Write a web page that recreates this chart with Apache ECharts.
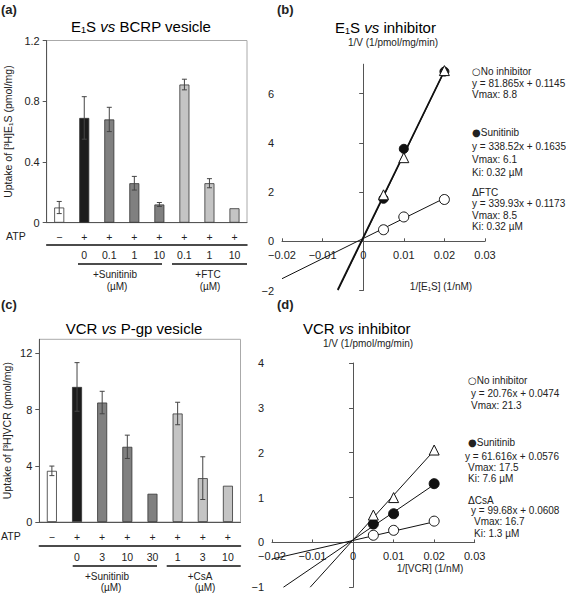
<!DOCTYPE html>
<html><head><meta charset="utf-8">
<script src="https://cdn.jsdelivr.net/npm/echarts@6/dist/echarts.min.js"></script>
<style>html,body{margin:0;padding:0;background:#fff}#c{width:566px;height:593px}</style>
</head><body><div id="c"></div>
<script>
// ---------- DATA ----------
// Panel (a): E1S uptake in BCRP vesicles
const atpA = ['−','+','+','+','+','+','+','+'];
const concA = ['','0','0.1','1','10','0.1','1','10'];
const uptakeA = [0.10, 0.69, 0.68, 0.26, 0.12, 0.91, 0.26, 0.095];
const errA = [0.04, 0.14, 0.08, 0.045, 0.013, 0.035, 0.03, null];
const yTicksA = [0, 0.4, 0.8, 1.2];
// Panel (c): VCR uptake in P-gp vesicles
const atpC = ['−','+','+','+','+','+','+','+'];
const concC = ['','0','3','10','30','1','3','10'];
const uptakeC = [3.64, 9.61, 8.50, 5.35, 2.01, 7.72, 3.12, 2.58];
const errC = [0.34, 1.73, 0.80, 0.83, null, 0.80, 1.52, null];
const yTicksC = [0, 4, 8, 12];
// Panel (b): Lineweaver-Burk E1S
const invSubB = [0.005, 0.01, 0.02];
const noInhB = [0.47, 0.99, 1.70];
const sunB = [1.73, 3.76, 6.90];
const ftcB = [1.89, 3.40, 6.94];
const noInhLineB = [[-0.02, -1.52], [0.02, 1.75]];
const sunLineB = [[-0.0063, -1.97], [0.02, 6.93]];
const ftcLineB = [[-0.0062, -1.99], [0.02, 6.92]];
const xRangeB = [-0.02, 0.03];
const yRangeB = [-2, 7.2];
const yTicksB = [-2, 0, 2, 4, 6];
const legendB = [[['○','No inhibitor'],'y = 81.865x + 0.1145','Vmax: 8.8'],
                 [['●','Sunitinib'],'y = 338.52x + 0.1635','Vmax: 6.1','Ki: 0.32 µM'],
                 [['Δ','FTC'],'y = 339.93x + 0.1173','Vmax: 8.5','Ki: 0.32 µM']];
// Panel (d): Lineweaver-Burk VCR
const invSubD = [0.005, 0.01, 0.02];
const noInhD = [0.16, 0.27, 0.475];
const sunD = [0.41, 0.64, 1.31];
const csaD = [0.61, 1.00, 2.06];
const noInhLineD = [[-0.02, -0.37], [0.02, 0.46]];
const sunLineD = [[-0.0172, -1.0], [0.02, 1.29]];
const csaLineD = [[-0.0106, -1.0], [0.02, 2.05]];
const xRangeD = [-0.02, 0.03];
const yRangeD = [-1, 4];
const legendD = [[['○','No inhibitor'],'y = 20.76x + 0.0474','Vmax: 21.3'],
                 [['●','Sunitinib'],'y = 61.616x + 0.0576','Vmax: 17.5','Ki: 7.6 µM'],
                 [['Δ','CsA'],'y = 99.68x + 0.0608','Vmax: 16.7','Ki: 1.3 µM']];

// ---------- STYLE ----------
const FONT = '"Liberation Sans", Arial, sans-serif';
const INK = '#222';
const AX = '#555';
const barColors = ['#ffffff','#1c1c1c','#808080','#808080','#808080','#c4c4c4','#c4c4c4','#c4c4c4'];
const fmtX = v => Math.abs(v) < 1e-9 ? '0' : (v < 0 ? '−' : '') + Math.abs(v).toFixed(2);
const fmtY = v => Math.abs(v) < 1e-9 ? '0' : (v < 0 ? '−' : '') + String(Math.abs(Math.round(v*10)/10));

function barSeries(xi, yi, vals) {
  return {type:'bar', xAxisIndex:xi, yAxisIndex:yi, barWidth:10, silent:true, z:2,
    data: vals.map((v,i)=>({value:v, itemStyle:{color:barColors[i], borderColor:'#333', borderWidth:0.8}}))};
}
function errSeries(xi, yi, vals, errs) {
  return {type:'custom', xAxisIndex:xi, yAxisIndex:yi, z:3, silent:true,
    data: vals.map((v,i)=>[i, v, errs[i] == null ? 0 : errs[i]]),
    encode:{x:0, y:1},
    renderItem(params, api) {
      const i = api.value(0), v = api.value(1), e = api.value(2);
      if (!e) return null;
      const t = api.coord([i, v + e]), b = api.coord([i, v - e]);
      const w = 2.5, st = {stroke:'#444', lineWidth:1};
      return {type:'group', children:[
        {type:'line', shape:{x1:t[0], y1:t[1], x2:b[0], y2:b[1]}, style:st},
        {type:'line', shape:{x1:t[0]-w, y1:t[1], x2:t[0]+w, y2:t[1]}, style:st},
        {type:'line', shape:{x1:b[0]-w, y1:b[1], x2:b[0]+w, y2:b[1]}, style:st}
      ]};
    }};
}
function lineSeries(xi, yi, pts, w) {
  return {type:'line', xAxisIndex:xi, yAxisIndex:yi, data:pts, showSymbol:false, silent:true,
    lineStyle:{color:'#111', width:w}, z:2};
}
function scatterSeries(xi, yi, xs, ys, sym, filled, size) {
  return {type:'scatter', xAxisIndex:xi, yAxisIndex:yi, symbol:sym, symbolSize:size, silent:true, z:4,
    data: xs.map((x,i)=>[x, ys[i]]),
    itemStyle:{color: filled ? '#111' : '#fff', borderColor:'#111', borderWidth:1, opacity:1}};
}
function catAxes(grid, atp, conc, offset) {
  return [
    {type:'category', gridIndex:grid, data:atp,
     axisLine:{onZero:false, lineStyle:{color:AX}}, axisTick:{inside:true, length:3, lineStyle:{color:AX}},
     axisLabel:{margin:9, fontSize:10.5, color:INK, interval:0}},
    {type:'category', gridIndex:grid, position:'bottom', offset:offset, data:conc,
     axisLine:{onZero:false, lineStyle:{color:'#111', width:1.5}}, axisTick:{show:false},
     axisLabel:{margin:5, fontSize:10.5, color:INK, interval:0}}
  ];
}
// x axis of a Lineweaver-Burk plot, lifted from the grid bottom up to y = 0
function valX(grid, gridRect, xr, yr) {
  const lift = gridRect.height * (0 - yr[0]) / (yr[1] - yr[0]);
  return {type:'value', gridIndex:grid, min:xr[0], max:xr[1], interval:0.01,
    position:'bottom', offset:-lift,
    axisLine:{onZero:false, lineStyle:{color:AX}},
    axisTick:{inside:true, length:3, lineStyle:{color:AX}},
    splitLine:{show:false}, axisLabel:{fontSize:11, color:INK, margin:8, formatter:fmtX}};
}
function T(x, y, text, opt) {
  return {type:'text', x:x, y:y, silent:true, z:10,
    style:Object.assign({text:text, font:'10px ' + FONT, fill:INK, align:'left', textAlign:'left',
      verticalAlign:'middle', textVerticalAlign:'middle'}, opt || {})};
}
function L(x1, x2, y) {
  return {type:'line', silent:true, shape:{x1:x1, y1:y, x2:x2, y2:y}, style:{stroke:'#111', lineWidth:1.5}};
}
function titleRich(x, y, pre, post, align) {
  return {type:'text', x:x, y:y, silent:true,
    style:{text:'{n|' + pre + ' }{i|vs}{n| ' + post + '}', align:align, textAlign:align,
      verticalAlign:'middle', textVerticalAlign:'middle',
      rich:{n:{fontSize:15, fontFamily:FONT, color:INK}, i:{fontSize:15, fontFamily:FONT, fontStyle:'italic', color:INK}}}};
}
const legendRich = {
  s:{fontSize:10, fontFamily:'"DejaVu Sans", sans-serif', color:INK},
  t:{fontSize:10, fontFamily:FONT, color:INK}
};
function legendTexts(ys, groups, xs) {
  const out = [];
  let k = 0;
  groups.forEach(g => g.forEach(s => {
    if (Array.isArray(s)) {
      out.push(T(xs[k], ys[k], '{s|' + s[0] + '}{t|' + s[1] + '}', {rich:legendRich}));
    } else {
      out.push(T(xs[k], ys[k], s));
    }
    k++;
  }));
  return out;
}

const gridB = {left:282, top:64.2, width:203, height:226.3};
const gridD = {left:272, top:363, width:202.7, height:224.3};

const option = {
  animation:false,
  textStyle:{fontFamily:FONT},
  grid:[
    {left:46.7, top:40.5, width:200.3, height:182.2, show:true, borderColor:'#aaa', borderWidth:1},
    gridB,
    {left:39.3, top:339.3, width:201.2, height:182.7, show:true, borderColor:'#aaa', borderWidth:1},
    gridD
  ],
  xAxis:[
    ...catAxes(0, atpA, concA, 22),          // 0,1
    valX(1, gridB, xRangeB, yRangeB),        // 2
    ...catAxes(2, atpC, concC, 24),          // 3,4
    valX(3, gridD, xRangeD, yRangeD)         // 5
  ],
  yAxis:[
    {type:'value', gridIndex:0, min:0, max:1.2, interval:0.4,
     axisLine:{show:true, onZero:false, lineStyle:{color:AX}}, axisTick:{show:true, length:4, lineStyle:{color:AX}},
     splitLine:{show:false}, axisLabel:{fontSize:11, color:INK, margin:7, formatter:fmtY},
     name:'Uptake of [³H]E₁S (pmol/mg)', nameLocation:'middle', nameGap:33,
     nameTextStyle:{fontSize:10.5, color:INK}},
    {type:'value', gridIndex:1, min:yRangeB[0], max:yRangeB[1],
     axisLine:{show:true, onZero:true, lineStyle:{color:AX}},
     axisTick:{show:true, length:4, customValues:yTicksB, lineStyle:{color:AX}},
     splitLine:{show:false}, axisLabel:{fontSize:11, color:INK, margin:8, customValues:yTicksB, formatter:fmtY}},
    {type:'value', gridIndex:2, min:0, max:13,
     axisLine:{show:true, onZero:false, lineStyle:{color:AX}},
     axisTick:{show:true, length:4, customValues:yTicksC, lineStyle:{color:AX}},
     splitLine:{show:false}, axisLabel:{fontSize:11, color:INK, margin:7, customValues:yTicksC, formatter:fmtY},
     name:'Uptake of [³H]VCR (pmol/mg)', nameLocation:'middle', nameGap:27,
     nameTextStyle:{fontSize:10.5, color:INK}},
    {type:'value', gridIndex:3, min:yRangeD[0], max:yRangeD[1], interval:1,
     axisLine:{show:true, onZero:true, lineStyle:{color:AX}},
     axisTick:{show:true, length:4, lineStyle:{color:AX}},
     splitLine:{show:false}, axisLabel:{fontSize:11, color:INK, margin:8, formatter:fmtY}}
  ],
  series:[
    barSeries(0, 0, uptakeA), errSeries(0, 0, uptakeA, errA),
    barSeries(3, 2, uptakeC), errSeries(3, 2, uptakeC, errC),
    lineSeries(2, 1, noInhLineB, 1), lineSeries(2, 1, ftcLineB, 1.2), lineSeries(2, 1, sunLineB, 1.6),
    scatterSeries(2, 1, invSubB, noInhB, 'circle', false, 10),
    scatterSeries(2, 1, invSubB, sunB, 'circle', true, 9),
    scatterSeries(2, 1, invSubB, ftcB, 'triangle', false, 10),
    lineSeries(5, 3, noInhLineD, 1), lineSeries(5, 3, sunLineD, 1), lineSeries(5, 3, csaLineD, 1),
    scatterSeries(5, 3, invSubD, noInhD, 'circle', false, 10),
    scatterSeries(5, 3, invSubD, sunD, 'circle', true, 10),
    scatterSeries(5, 3, invSubD, csaD, 'triangle', false, 10)
  ],
  graphic:[
    T(1, 9, '(a)', {font:'bold 13px ' + FONT}),
    T(277, 9, '(b)', {font:'bold 13px ' + FONT}),
    T(1, 304, '(c)', {font:'bold 13px ' + FONT}),
    T(277, 304, '(d)', {font:'bold 13px ' + FONT}),
    titleRich(141, 26, 'E₁S', 'BCRP vesicle', 'center'),
    titleRich(335, 27, 'E₁S', 'inhibitor', 'left'),
    titleRich(134, 328, 'VCR', 'P-gp vesicle', 'center'),
    titleRich(303, 328, 'VCR', 'inhibitor', 'left'),
    // panel a annotations
    T(6, 236, 'ATP', {font:'10.5px ' + FONT}),
    L(78, 162, 264), L(172, 247, 264),
    T(115, 274, '+Sunitinib', {align:'center', textAlign:'center'}),
    T(117, 286, '(µM)', {align:'center', textAlign:'center'}),
    T(208, 274, '+FTC', {align:'center', textAlign:'center'}),
    T(210, 286, '(µM)', {align:'center', textAlign:'center'}),
    // panel c annotations
    T(1, 536, 'ATP', {font:'10.5px ' + FONT}),
    L(72.7, 157, 566), L(166.7, 240.7, 566),
    T(107, 576, '+Sunitinib', {align:'center', textAlign:'center'}),
    T(111, 587, '(µM)', {align:'center', textAlign:'center'}),
    T(200, 576, '+CsA', {align:'center', textAlign:'center'}),
    T(205, 587, '(µM)', {align:'center', textAlign:'center'}),
    // panel b axis names + legend
    T(348, 42, '1/V (1/pmol/mg/min)'),
    T(441, 286, '1/[E₁S] (1/nM)', {align:'center', textAlign:'center'}),
    ...legendTexts([71, 83, 94.5, 132, 146, 159.5, 172.5, 192, 203.5, 215, 226.5], legendB,
      [472, 472, 472, 472, 472, 472, 472, 472, 472, 472, 472]),
    // panel d axis names + legend
    T(323, 343, '1/V (1/pmol/mg/min)'),
    T(430, 568, '1/[VCR] (1/nM)', {align:'center', textAlign:'center'}),
    ...legendTexts([380, 393, 405, 442, 456, 467, 478.5, 500, 510.5, 521.5, 533], legendD,
      [468, 471, 471, 468, 465, 468, 468, 468, 471, 474, 474])
  ]
};
const chart = echarts.init(document.getElementById('c'), null, {renderer:'svg'});
chart.setOption(option);
</script></body></html>
